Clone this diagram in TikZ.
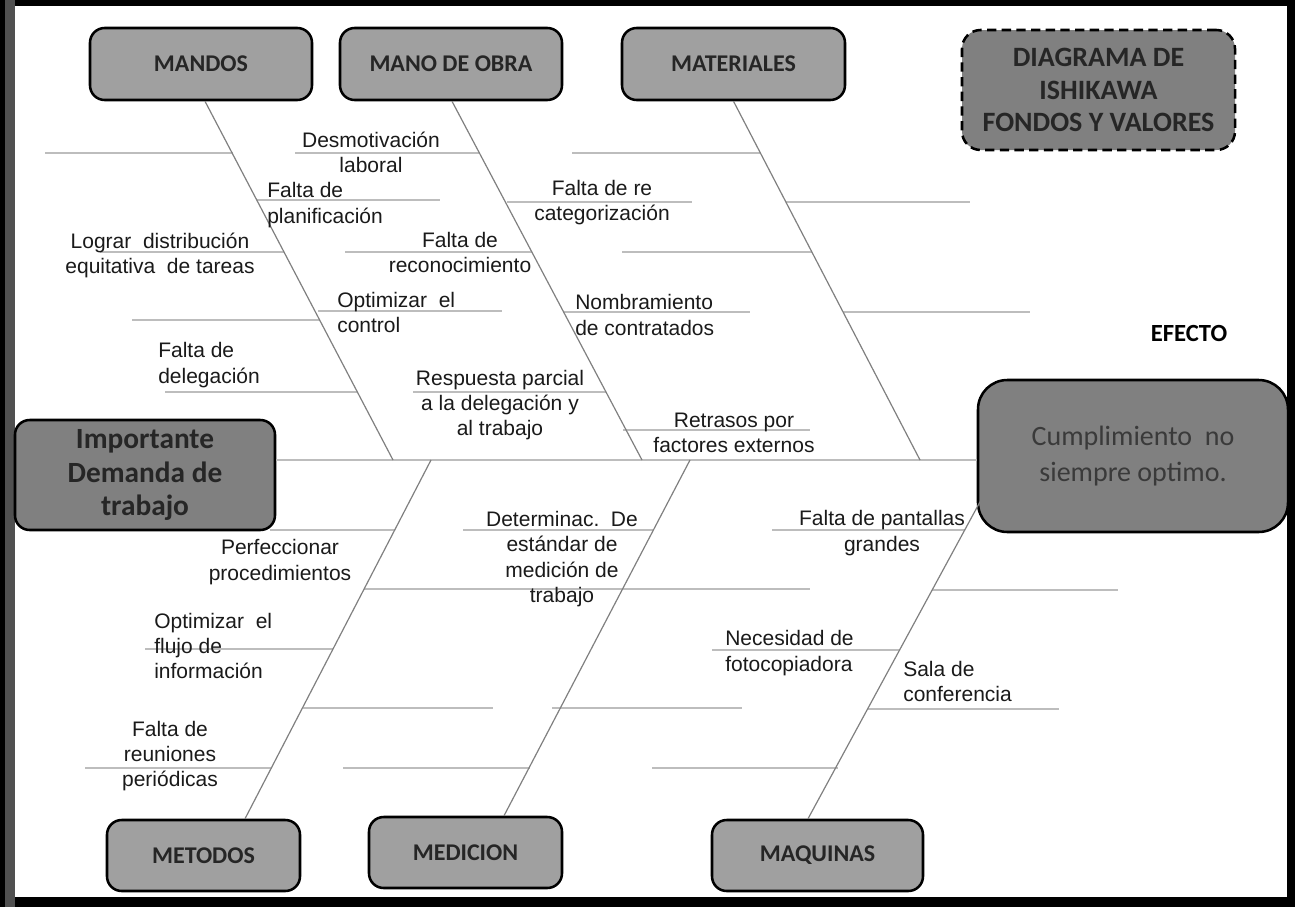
\documentclass[tikz,border=0pt]{standalone}
\usepackage{fontspec}
\setmainfont{Liberation Sans}
\newfontfamily\calibri{Carlito}
\usetikzlibrary{calc}
\definecolor{catgray}{HTML}{A0A0A0}
\definecolor{boxgray}{HTML}{808080}
\definecolor{ribgray}{HTML}{BDBDBD}
\definecolor{bonegray}{HTML}{808080}
\definecolor{txt}{HTML}{1A1A1A}
\definecolor{efftxt}{HTML}{3A3A3A}
\definecolor{leftbar}{HTML}{505050}
\tikzset{
  catbox/.style={draw=black, line width=1.9pt, fill=catgray, rounded corners=11pt,
    font=\calibri\bfseries\fontsize{18}{21}\selectfont, text=black!85, inner sep=0pt},
  bigbox/.style={draw=black, line width=1.9pt, fill=boxgray, inner sep=0pt, align=center},
  lbl/.style={font=\fontsize{15.75}{19}\selectfont, text=txt, inner sep=0pt, align=center},
  lbll/.style={lbl, align=left, anchor=west},
  rib/.style={draw=ribgray, line width=1.5pt},
  bone/.style={draw=bonegray, line width=0.9pt},
}
\begin{document}
\begin{tikzpicture}[x=0.75pt,y=-0.75pt]
\useasboundingbox (0,0) rectangle (1295,907);
% frame
\fill[white] (0,0) rectangle (1295,907);
\fill[black] (0,0) rectangle (1295,6);
\fill[black] (0,897) rectangle (1295,907);
\fill[black] (1287,0) rectangle (1295,907);
\fill[leftbar] (0,0) rectangle (15,907);
\fill[black] (0,0) rectangle (5,907);

% ribs
\draw[rib] (45,153) -- (233,153);
\draw[rib] (295,153) -- (480,153);
\draw[rib] (572,153) -- (761,153);
\draw[rib] (257,200) -- (440,200);
\draw[rib] (507,202) -- (692,202);
\draw[rib] (786,202) -- (970,202);
\draw[rib] (100,252) -- (284,252);
\draw[rib] (345,252) -- (532,252);
\draw[rib] (622,252) -- (812,252);
\draw[rib] (132,320) -- (320,320);
\draw[rib] (318,311) -- (502,311);
\draw[rib] (563,312) -- (750,312);
\draw[rib] (843,312) -- (1030,312);
\draw[rib] (165,392) -- (357,392);
\draw[rib] (413,392) -- (606,392);
\draw[rib] (623,430) -- (810,430);
\draw[rib] (270,530) -- (395,530);
\draw[rib] (463,530) -- (653,530);
\draw[rib] (772,530) -- (965,530);
\draw[rib] (364,589) -- (810,589);
\draw[rib] (932,590) -- (1118,590);
\draw[rib] (145,649) -- (333,649);
\draw[rib] (712,650) -- (900,650);
\draw[rib] (303,708) -- (493,708);
\draw[rib] (552,708) -- (742,708);
\draw[rib] (868,709) -- (1059,709);
\draw[rib] (85,768) -- (272,768);
\draw[rib] (343,768) -- (530,768);
\draw[rib] (652,768) -- (838,768);

% boxes
\node[catbox, minimum width=166.5pt, minimum height=54pt] (mandos) at (201,64) {MANDOS};
\node[catbox, minimum width=166.5pt, minimum height=54pt] (mano) at (451,64) {MANO DE OBRA};
\node[catbox, minimum width=167.25pt, minimum height=54pt] (mat) at (733.5,64) {MATERIALES};
\node[catbox, minimum width=144.75pt, minimum height=53.25pt] (met) at (203.5,855.5) {METODOS};
\node[catbox, minimum width=144.75pt, minimum height=53.25pt] (med) at (465.5,852.5) {MEDICION};
\node[catbox, minimum width=158.25pt, minimum height=53.25pt] (maq) at (817.5,855.5) {MAQUINAS};
\node[bigbox, dashed, dash pattern=on 7pt off 4pt, rounded corners=14pt,
  minimum width=204.75pt, minimum height=90pt,
  font=\calibri\bfseries\fontsize{21}{24.5}\selectfont, text=black!85] (title) at (1098.5,90)
  {DIAGRAMA DE\\ISHIKAWA\\FONDOS Y VALORES};
\node[bigbox, rounded corners=11pt, minimum width=195pt, minimum height=82.5pt,
  font=\calibri\bfseries\fontsize{22}{25}\selectfont, text=black!85] (imp) at (145,475)
  {Importante\\Demanda de\\trabajo};
\node[bigbox, rounded corners=22pt, minimum width=232.5pt, minimum height=114pt,
  font=\calibri\fontsize{21}{26.5}\selectfont, text=efftxt] (eff) at (1133,456)
  {\raisebox{0pt}[0pt][0pt]{}Cumplimiento\ \ no\\siempre optimo.\vphantom{Cp}};
\node[font=\calibri\bfseries\fontsize{18.5}{21}\selectfont, text=black, inner sep=0pt] (efecto) at (1189,333) {EFECTO};

% spine and bones
\coordinate (j1) at (393,460);
\coordinate (j2) at (642,460);
\coordinate (j3) at (920,460);
\coordinate (k1) at (431,460);
\coordinate (k2) at (690,460);
\coordinate (k3) at (981,500);
\draw[rib] (imp.east |- j1) -- (eff.west |- j1);
\draw[bone] (mandos.south) ++(4,0) -- (j1);
\draw[bone] (mano.south) ++(1,0) -- (j2);
\draw[bone] (mat.south) -- (j3);
\draw[bone] (k1) -- ($(met.north)+(41.5,0)$);
\draw[bone] (k2) -- ($(med.north)+(38.5,0)$);
\draw[bone] (k3) -- ($(maq.north)+(-9.5,0)$);

% labels
\node[lbl] (t1) at (371,152.5) {Desmotivación\\laboral};
\node[lbll] (t2) at (267,205) {Falta de\\planificación};
\node[lbl] (t3) at (160,255.5) {Lograr\ \ distribución\\equitativa\ \ de tareas};
\node[lbl] (t4) at (460,252.5) {Falta de\\reconocimiento};
\node[lbll] (t5) at (337,312.5) {Optimizar\ \ el\\control};
\node[lbll] (t6) at (158,365) {Falta de\\delegación};
\node[lbl] (t7) at (500,405) {Respuesta parcial\\a la delegación y\\al trabajo};
\node[lbl] (t8) at (602,202.5) {Falta de re\\categorización};
\node[lbll] (t9) at (575,315) {Nombramiento\\de contratados};
\node[lbl] (t10) at (734,433) {Retrasos por\\factores externos};
\node[lbl] (t11) at (280,562) {Perfeccionar\\procedimientos};
\node[lbll] (t12) at (154,646) {Optimizar\ \ el\\flujo de\\información};
\node[lbl] (t13) at (170,756) {Falta de\\reuniones\\periódicas};
\node[lbl] (t14) at (562,559) {Determinac.\ \ De\\estándar de\\medición de\\trabajo};
\node[lbl] (t15) at (882,533) {Falta de pantallas\\grandes};
\node[lbll] (t16) at (725,653) {Necesidad de\\fotocopiadora};
\node[lbll] (t17) at (903,681.5) {Sala de\\conferencia};
\end{tikzpicture}
\end{document}
